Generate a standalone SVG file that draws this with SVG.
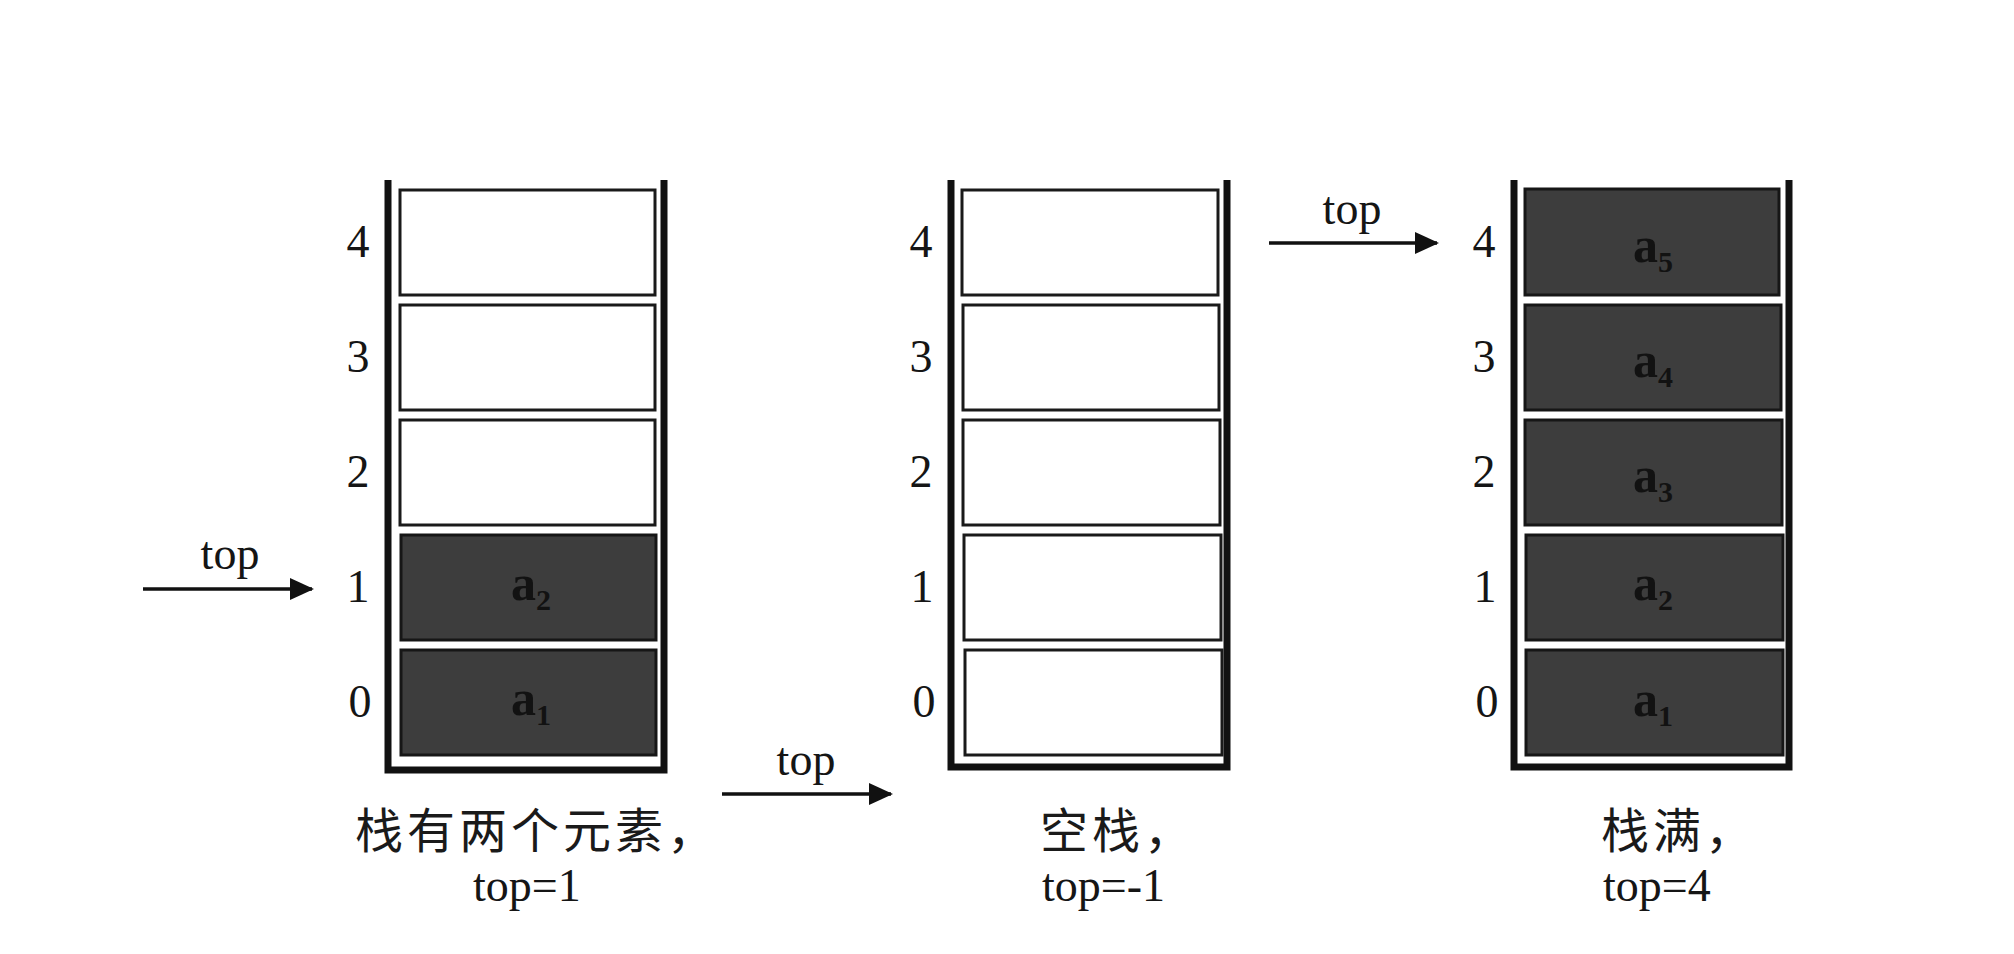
<svg xmlns="http://www.w3.org/2000/svg" width="2014" height="954" viewBox="0 0 2014 954">
<defs>
<style>
.wall{fill:none;stroke:#111;stroke-width:7;stroke-linejoin:miter}
.empty{fill:#fff;stroke:#1a1a1a;stroke-width:3}
.full{fill:#3d3d3d;stroke:#161616;stroke-width:3}
.idx{font-family:"Liberation Serif",serif;font-size:46px;fill:#151515;text-anchor:middle}
.elem{font-family:"Liberation Serif",serif;font-size:50px;font-weight:bold;fill:#121212;text-anchor:middle}
.sub{font-size:30px}
.lbl{font-family:"Liberation Serif",serif;font-size:46px;fill:#151515;text-anchor:middle}
.cap{font-family:"Noto Sans CJK SC","Liberation Sans",sans-serif;font-size:48px;fill:#1a1a1a;letter-spacing:4px}
.cap2{font-family:"Liberation Serif",serif;font-size:46px;fill:#151515}
.arrow{stroke:#111;stroke-width:3.5;fill:none;marker-end:url(#head)}
</style>
<marker id="head" markerUnits="userSpaceOnUse" markerWidth="24" markerHeight="22" refX="22" refY="11" orient="auto">
<path d="M0,0 L24,11 L0,22 Z" fill="#111"/>
</marker>
</defs>
<rect width="2014" height="954" fill="#fff"/>

<g id="stack1">
<path class="wall" d="M388,180 V770 H664 V180"/>
<rect class="empty" x="400" y="190" width="255" height="105"/>
<rect class="empty" x="400" y="305" width="255" height="105"/>
<rect class="empty" x="400" y="420" width="255" height="105"/>
<rect class="full" x="401" y="535" width="255" height="105"/>
<rect class="full" x="401" y="650" width="255" height="105"/>
<text class="elem" x="531" y="600">a<tspan class="sub" dy="10">2</tspan></text>
<text class="elem" x="531" y="715">a<tspan class="sub" dy="10">1</tspan></text>
<text class="idx" x="358" y="257">4</text>
<text class="idx" x="358" y="372">3</text>
<text class="idx" x="358" y="487">2</text>
<text class="idx" x="358" y="602">1</text>
<text class="idx" x="360" y="717">0</text>
<text class="cap" x="355" y="848">栈有两个元素，</text>
<text class="cap2" x="473" y="901">top=1</text>
</g>

<g id="stack2">
<path class="wall" d="M951,180 V767 H1227 V180"/>
<rect class="empty" x="962" y="190" width="256" height="105"/>
<rect class="empty" x="963" y="305" width="256" height="105"/>
<rect class="empty" x="963" y="420" width="257" height="105"/>
<rect class="empty" x="964" y="535" width="257" height="105"/>
<rect class="empty" x="965" y="650" width="257" height="105"/>
<text class="idx" x="921" y="257">4</text>
<text class="idx" x="921" y="372">3</text>
<text class="idx" x="921" y="487">2</text>
<text class="idx" x="922" y="602">1</text>
<text class="idx" x="924" y="717">0</text>
<text class="cap" x="1040" y="848">空栈，</text>
<text class="cap2" x="1042" y="901">top=-1</text>
</g>

<g id="stack3">
<path class="wall" d="M1514,180 V767 H1789 V180"/>
<rect class="full" x="1525" y="189" width="254" height="106"/>
<rect class="full" x="1525" y="305" width="256" height="105"/>
<rect class="full" x="1525" y="420" width="257" height="105"/>
<rect class="full" x="1526" y="535" width="257" height="105"/>
<rect class="full" x="1526" y="650" width="257" height="105"/>
<text class="elem" x="1653" y="262">a<tspan class="sub" dy="10">5</tspan></text>
<text class="elem" x="1653" y="377">a<tspan class="sub" dy="10">4</tspan></text>
<text class="elem" x="1653" y="492">a<tspan class="sub" dy="10">3</tspan></text>
<text class="elem" x="1653" y="600">a<tspan class="sub" dy="10">2</tspan></text>
<text class="elem" x="1653" y="716">a<tspan class="sub" dy="10">1</tspan></text>
<text class="idx" x="1484" y="257">4</text>
<text class="idx" x="1484" y="372">3</text>
<text class="idx" x="1484" y="487">2</text>
<text class="idx" x="1485" y="602">1</text>
<text class="idx" x="1487" y="717">0</text>
<text class="cap" x="1601" y="848">栈满，</text>
<text class="cap2" x="1603" y="901">top=4</text>
</g>

<g id="connectors">
<line class="arrow" x1="143" y1="589" x2="312" y2="589"/>
<text class="lbl" x="230" y="569">top</text>
<line class="arrow" x1="722" y1="794" x2="891" y2="794"/>
<text class="lbl" x="806" y="775">top</text>
<line class="arrow" x1="1269" y1="243" x2="1437" y2="243"/>
<text class="lbl" x="1352" y="224">top</text>
</g>
</svg>
